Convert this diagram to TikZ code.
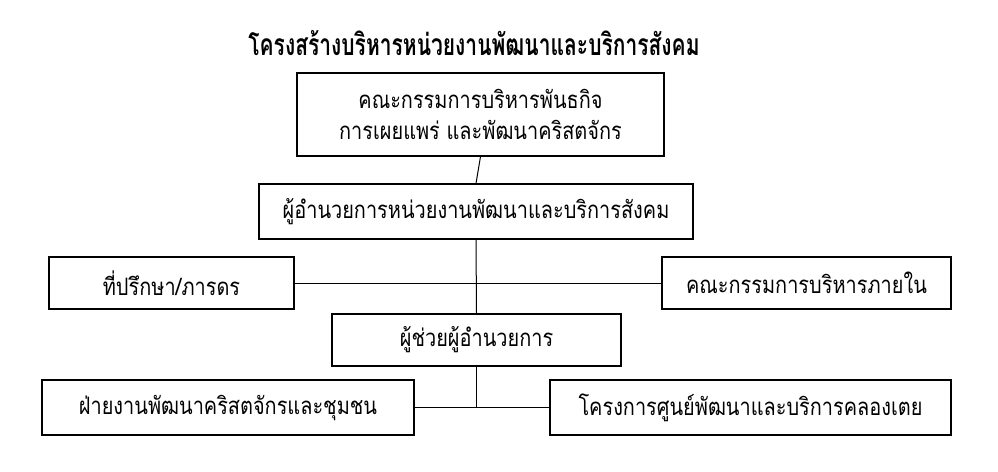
\documentclass[tikz,border=0pt]{standalone}
\usepackage{fontspec}
\newfontfamily\thaifont[Script=Thai, FakeStretch=0.83]{Loma}
\newfontfamily\thaititle[Script=Thai, FakeStretch=0.70]{Loma}

\begin{document}
\begin{tikzpicture}[
			x=1pt, y=-1pt,
			unit/.style={draw=black, line width=1.2pt, inner sep=0pt,
			font=\thaifont\fontsize{24}{31}\selectfont, align=center},
			link/.style={draw=black, line width=1pt}
			]
			\useasboundingbox (0,0) rectangle (998,471);
			\node[font=\thaititle\bfseries\fontsize{30}{34}\selectfont] (title) at (474,43)
				{โครงสร้างบริหารหน่วยงานพัฒนาและบริการสังคม};
			\node[unit, minimum width=367pt, minimum height=83pt] (board) at (480.5,114.5)
				{คณะกรรมการบริหารพันธกิจ\\การเผยแพร่ และพัฒนาคริสตจักร};
			\node[unit, minimum width=434pt, minimum height=55pt] (director) at (476,211.5)
				{ผู้อำนวยการหน่วยงานพัฒนาและบริการสังคม};
			\node[unit, minimum width=245pt, minimum height=52pt] (advisor) at (171.5,283)
				{ที่ปรึกษา/ภารดร};
			\node[unit, minimum width=289pt, minimum height=52pt] (inner) at (806.5,283)
				{คณะกรรมการบริหารภายใน};
			\node[unit, minimum width=289pt, minimum height=52pt] (assistant) at (476.5,340)
				{ผู้ช่วยผู้อำนวยการ};
			\node[unit, minimum width=372pt, minimum height=55pt] (church) at (228,407.5)
				{ฝ่ายงานพัฒนาคริสตจักรและชุมชน};
			\node[unit, minimum width=401pt, minimum height=55pt] (klongtoei) at (750.5,407.5)
				{โครงการศูนย์พัฒนาและบริการคลองเตย};
			\coordinate (fork) at (assistant.south |- church.east);
			\draw[link] (board.south) -- (director.north);
			\draw[link] (director.south) -- (assistant.north);
			\draw[link] (advisor.east) -- (inner.west);
			\draw[link] (assistant.south) -- (fork);
			\draw[link] (church.east) -- (klongtoei.west);
		\end{tikzpicture}
\end{document}
